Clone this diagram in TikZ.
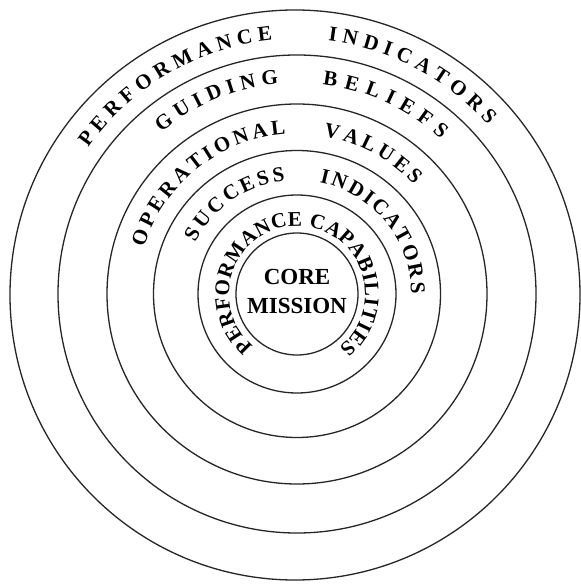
\documentclass[tikz,border=0pt]{standalone}
\usepackage{fontspec}
\setmainfont{Liberation Serif}
\usetikzlibrary{decorations.text}

% font for the lettering that runs along the rings
\newcommand\ringfont{\bfseries\fontsize{21bp}{25bp}\selectfont}

\tikzset{
  ring/.style={circle, draw=black!85, line width=1.3bp, inner sep=0pt, outer sep=0pt},
  ringtext/.style={decorate, decoration={text along path, text align=fit to path,
      text format delimiters={|}{|}, text={|\ringfont|#1}}},
  corelabel/.style={align=center, inner sep=0pt,
      font=\bfseries\fontsize{23bp}{29bp}\selectfont},
}

\begin{document}
\begin{tikzpicture}[x=1bp,y=1bp]
  \useasboundingbox[fill=white] (-297,-292) rectangle (284,294);

  % concentric rings, outermost first
  \node[ring, minimum size=570bp] (outer)   at (-2,-1) {};
  \node[ring, minimum size=478bp] (beliefs) at (0,0) {};
  \node[ring, minimum size=380bp] (values)  at (0,0) {};
  \node[ring, minimum size=287bp] (success) at (0,0) {};
  \node[ring, minimum size=198bp] (capab)   at (0,0) {};
  \node[ring, minimum size=122bp] (core)    at (0,0) {};

  % centre label
  \node[corelabel] (mission) at (0,3) {CORE\\MISSION};

  % outermost band
  \path[ringtext=PERFORMANCE] (145:255bp) arc[start angle=145, end angle=95.5, radius=255bp];
  \path[ringtext=INDICATORS]  (83:255bp)  arc[start angle=83,  end angle=41.5, radius=255bp];

  % second band
  \path[ringtext=GUIDING] (130:211bp) arc[start angle=130, end angle=95, radius=211bp];
  \path[ringtext=BELIEFS] (83:211bp)  arc[start angle=83,  end angle=47, radius=211bp];

  % third band
  \path[ringtext=OPERATIONAL] (163:160bp) arc[start angle=163, end angle=94, radius=160bp];
  \path[ringtext=VALUES]      (80.5:160bp) arc[start angle=80.5, end angle=43, radius=160bp];

  % fourth band
  \path[ringtext=SUCCESS]    (153:114bp)  arc[start angle=153,  end angle=96, radius=114bp];
  \path[ringtext=INDICATORS] (78.5:114bp) arc[start angle=78.5, end angle=0,  radius=114bp];

  % innermost band
  \path[ringtext={PERFORMANCE CAPABILITIES}] (230:68bp) arc[start angle=230, end angle=-52, radius=68bp];
\end{tikzpicture}
\end{document}
